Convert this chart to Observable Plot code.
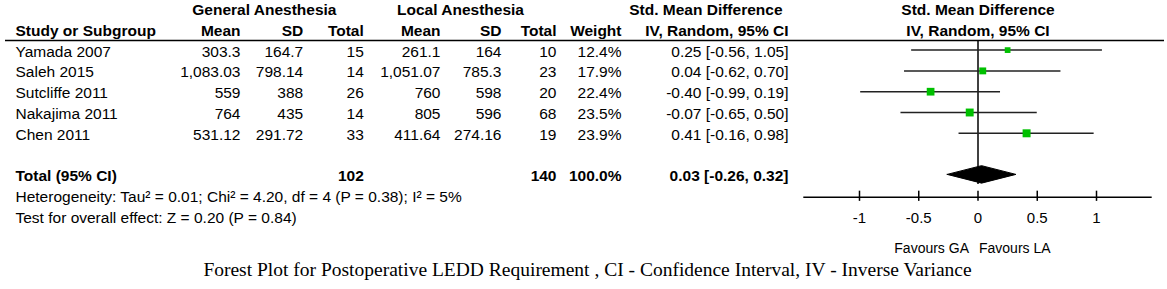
<!DOCTYPE html>
<html>
<head>
<meta charset="utf-8">
<script src="https://cdn.jsdelivr.net/npm/d3@7"></script>
<script src="https://cdn.jsdelivr.net/npm/@observablehq/plot@0.6"></script>
<style>
  html, body { margin: 0; padding: 0; background: white; }
  #wrap { position: relative; width: 1167px; height: 258px; }
  #wrap svg { position: absolute; left: 0; top: 0; }
  #caption { width: 1167px; text-align: center; font-family: "Liberation Serif", "Times New Roman", serif; font-size: 19.5px; line-height: 24px; color: #000; padding-left: 8px; box-sizing: border-box; }
</style>
</head>
<body>
<div id="wrap"></div>
<div id="caption">Forest Plot for Postoperative LEDD Requirement , CI - Confidence Interval, IV - Inverse Variance</div>
<script>
// ---------------- data ----------------
const studies = ["Yamada 2007", "Saleh 2015", "Sutcliffe 2011", "Nakajima 2011", "Chen 2011"];
const gaMean  = [303.3, 1083.03, 559, 764, 531.12];
const gaSD    = [164.7, 798.14, 388, 435, 291.72];
const gaN     = [15, 14, 26, 14, 33];
const laMean  = [261.1, 1051.07, 760, 805, 411.64];
const laSD    = [164, 785.3, 598, 596, 274.16];
const laN     = [10, 23, 20, 68, 19];
const weight  = [12.4, 17.9, 22.4, 23.5, 23.9];
const smd     = [0.25, 0.04, -0.40, -0.07, 0.41];
const ciLow   = [-0.56, -0.62, -0.99, -0.65, -0.16];
const ciHigh  = [1.05, 0.70, 0.19, 0.50, 0.98];
const totalGA = 102;
const totalLA = 140;
const totalWeight = 100.0;
const totalSMD = 0.03;
const totalLow = -0.26;
const totalHigh = 0.32;
const xTicks = [-1, -0.5, 0, 0.5, 1];
const heterogeneityText = "Heterogeneity: Tau\u00B2 = 0.01; Chi\u00B2 = 4.20, df = 4 (P = 0.38); I\u00B2 = 5%";
const overallText = "Test for overall effect: Z = 0.20 (P = 0.84)";
const favoursLeft = "Favours GA";
const favoursRight = "Favours LA";

// ---------------- layout ----------------
const W = 1167, H = 258;
const yScale = {domain: [0, 10], range: [9.5, 217.5]};   // row index -> px
const colX = {study: 15, gaMean: 240, gaSD: 302.7, gaN: 363.3, laMean: 440, laSD: 501, laN: 556, weight: 621, ci: 788};
const xDomain = [-1.47, 1.47];
const xRange = [803.3, 1151.7];
const FONT = "'Liberation Sans', Arial, sans-serif";

const num = v => v.toLocaleString("en-US", {maximumFractionDigits: 2});
const ciText = (e, l, h) => `${e.toFixed(2)} [${l.toFixed(2)}, ${h.toFixed(2)}]`;

const rows = studies.map((s, i) => ({
  study: s, row: 2 + i,
  gaMean: gaMean[i], gaSD: gaSD[i], gaN: gaN[i],
  laMean: laMean[i], laSD: laSD[i], laN: laN[i],
  weight: weight[i], smd: smd[i], lo: ciLow[i], hi: ciHigh[i]
}));

// table cells
const endRegular = [], endBold = [], startRegular = [], startBold = [], midBold = [];
startBold.push({x: colX.study, row: 1, text: "Study or Subgroup"});
midBold.push({x: (192.7 + 335) / 2, row: 0, text: "General Anesthesia"});
midBold.push({x: (396.7 + 523.3) / 2, row: 0, text: "Local Anesthesia"});
endBold.push({x: 782, row: 0, text: "Std. Mean Difference"});
[["gaMean","Mean"],["gaSD","SD"],["gaN","Total"],["laMean","Mean"],["laSD","SD"],["laN","Total"],["weight","Weight"],["ci","IV, Random, 95% CI"]]
  .forEach(([k, t]) => endBold.push({x: colX[k], row: 1, text: t}));
rows.forEach(r => {
  startRegular.push({x: colX.study, row: r.row, text: r.study});
  endRegular.push({x: colX.gaMean, row: r.row, text: num(r.gaMean)});
  endRegular.push({x: colX.gaSD, row: r.row, text: num(r.gaSD)});
  endRegular.push({x: colX.gaN, row: r.row, text: String(r.gaN)});
  endRegular.push({x: colX.laMean, row: r.row, text: num(r.laMean)});
  endRegular.push({x: colX.laSD, row: r.row, text: num(r.laSD)});
  endRegular.push({x: colX.laN, row: r.row, text: String(r.laN)});
  endRegular.push({x: colX.weight, row: r.row, text: r.weight.toFixed(1) + "%"});
  endRegular.push({x: colX.ci, row: r.row, text: ciText(r.smd, r.lo, r.hi)});
});
startBold.push({x: colX.study, row: 8, text: "Total (95% CI)"});
endBold.push({x: colX.gaN, row: 8, text: String(totalGA)});
endBold.push({x: colX.laN, row: 8, text: String(totalLA)});
endBold.push({x: colX.weight, row: 8, text: totalWeight.toFixed(1) + "%"});
endBold.push({x: colX.ci, row: 8, text: ciText(totalSMD, totalLow, totalHigh)});
startRegular.push({x: colX.study, row: 9, text: heterogeneityText});
startRegular.push({x: colX.study, row: 10, text: overallText});

const textOpts = (anchor, weightStyle) => ({x: "x", y: "row", text: "text", textAnchor: anchor, lineAnchor: "middle",
  fontWeight: weightStyle, fontSize: 15.5, fill: "black"});

const table = Plot.plot({
  width: W, height: H, margin: 0,
  x: {type: "identity", axis: null},
  y: {...yScale, axis: null},
  style: {fontFamily: FONT, background: "transparent", overflow: "visible"},
  marks: [
    Plot.ruleY([1.47], {x1: 5, x2: 1164, stroke: "black", strokeWidth: 1.5}),
    Plot.text(startRegular, textOpts("start", "normal")),
    Plot.text(startBold, textOpts("start", "bold")),
    Plot.text(endRegular, textOpts("end", "normal")),
    Plot.text(endBold, textOpts("end", "bold")),
    Plot.text(midBold, textOpts("middle", "bold"))
  ]
});

// diamond for pooled estimate
const dh = 0.42;
const diamond = [
  {x: totalLow, y: 8}, {x: totalSMD, y: 8 - dh}, {x: totalHigh, y: 8}, {x: totalSMD, y: 8 + dh}, {x: totalLow, y: 8}
];

const forest = Plot.plot({
  width: W, height: H, margin: 0,
  x: {domain: xDomain, range: xRange, axis: null},
  y: {...yScale, axis: null},
  r: {type: "sqrt", domain: [0, 25], range: [0, 4.6]},
  style: {fontFamily: FONT, background: "transparent", overflow: "visible"},
  marks: [
    Plot.text(["Std. Mean Difference"], {x: 0, y: 0, text: d => d, fontWeight: "bold", fontSize: 15.5, lineAnchor: "middle"}),
    Plot.text(["IV, Random, 95% CI"], {x: 0, y: 1, text: d => d, fontWeight: "bold", fontSize: 15.5, lineAnchor: "middle"}),
    Plot.ruleX([0], {y1: 1.47, y2: 8.39, stroke: "black", strokeWidth: 1.5}),
    Plot.ruleY(rows, {x1: "lo", x2: "hi", y: "row", dy: -1.5, stroke: "#222", strokeWidth: 1.5}),
    Plot.dot(rows, {x: "smd", y: "row", dy: -1.5, r: "weight", symbol: "square", fill: "#00c000", stroke: "none"}),
    Plot.line(diamond, {x: "x", y: "y", dy: -2, fill: "black", stroke: "black", strokeWidth: 1}),
    Plot.ruleY([9], {x1: xDomain[0], x2: xDomain[1], stroke: "black", strokeWidth: 1.5}),
    Plot.ruleX(xTicks, {x: d => d, y1: 8.71, y2: 9.2, stroke: "black", strokeWidth: 1.5}),
    Plot.text(xTicks, {x: d => d, y: 10, text: d => String(d), fontSize: 15, lineAnchor: "middle"}),
    Plot.text([favoursLeft], {x: 0, y: 11.47, text: d => d, textAnchor: "end", dx: -9, fontSize: 14, lineAnchor: "middle"}),
    Plot.text([favoursRight], {x: 0, y: 11.47, text: d => d, textAnchor: "start", dx: 1, fontSize: 14, lineAnchor: "middle"})
  ]
});

const wrap = document.getElementById("wrap");
wrap.appendChild(table);
wrap.appendChild(forest);
</script>
</body>
</html>
